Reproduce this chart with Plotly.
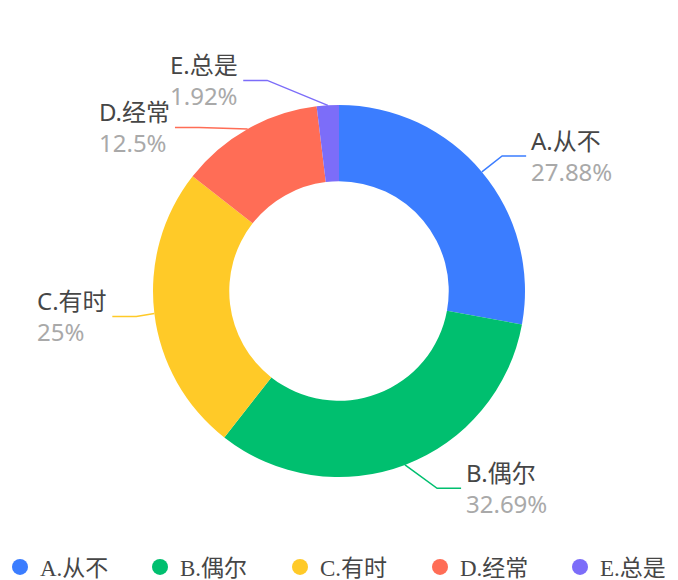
import math
import plotly.graph_objects as go

# ---- data ----
labels = ["A.从不", "B.偶尔", "C.有时", "D.经常", "E.总是"]
percents = [27.88, 32.69, 25, 12.5, 1.92]
colors = ["#3B7DFF", "#00BF6F", "#FFCA28", "#FF6D56", "#7C6DF9"]

# ---- layout constants ----
W, H = 678, 580
CX, CY, R = 339, 291, 186
HOLE = 0.59
L1, L2, GAP = 25, 24, 3          # leader line segment lengths, text gap
RA, RB = R + 18, R + 39          # ellipse on which label knees sit
MIN_DY = 47                      # minimal vertical spacing of labels
LABEL_FONT = "Noto Sans, Noto Sans CJK SC, sans-serif"
LEGEND_FONT = "Liberation Serif, Noto Sans CJK SC, serif"


def fmt_pct(v):
    s = f"{v:.2f}".rstrip("0").rstrip(".")
    return s + "%"


fig = go.Figure()

# donut
fig.add_trace(go.Pie(
    values=percents, labels=labels, sort=False, direction="clockwise", rotation=0,
    hole=HOLE, textinfo="none", showlegend=False,
    marker=dict(colors=colors, line=dict(width=0)),
    domain=dict(x=[(CX - R) / W, (CX + R) / W], y=[(H - CY - R) / H, (H - CY + R) / H]),
    hovertemplate="%{label}: %{value}%<extra></extra>",
))

# label layout computed from the data
total = sum(percents)
items = []
cum = 0.0
for i, v in enumerate(percents):
    f = v / total
    mid = (cum + f / 2) * 2 * math.pi
    cum += f
    ux, uy = math.sin(mid), -math.cos(mid)
    items.append(dict(i=i, ex=CX + R * ux, ey=CY + R * uy,
                      ky=CY + (R + L1) * uy, side=1 if ux >= 0 else -1))
for side in (1, -1):
    grp = sorted([it for it in items if it["side"] == side], key=lambda t: t["ky"])
    for a, b in zip(grp, grp[1:]):
        if b["ky"] - a["ky"] < MIN_DY:
            b["ky"] = a["ky"] + MIN_DY
for it in items:
    dy = it["ky"] - CY
    it["kx"] = CX + it["side"] * RA * math.sqrt(max(0.0, 1 - (dy / RB) ** 2))

for it in items:
    i, s = it["i"], it["side"]
    fig.add_trace(go.Scatter(
        x=[it["ex"], it["kx"], it["kx"] + s * L2], y=[it["ey"], it["ky"], it["ky"]],
        mode="lines", line=dict(color=colors[i], width=1.5),
        hoverinfo="skip", showlegend=False,
    ))
    fig.add_annotation(
        x=it["kx"] + s * (L2 + GAP), y=it["ky"], xref="x", yref="y",
        xanchor="left" if s > 0 else "right", yanchor="middle", align="left",
        showarrow=False,
        text=f"<span style='color:#464646'>{labels[i]}</span><br>"
             f"<span style='color:#A9A9A9'>{fmt_pct(percents[i])}</span>",
        font=dict(size=24, family=LABEL_FONT),
    )

# legend entries (circle symbols)
for i, lab in enumerate(labels):
    fig.add_trace(go.Scatter(
        x=[None], y=[None], mode="markers", name=lab,
        marker=dict(color=colors[i], size=16, symbol="circle"),
        legendwidth=60 if i == len(labels) - 1 else None,
    ))

fig.update_layout(
    width=W, height=H,
    margin=dict(l=0, r=0, t=0, b=0, autoexpand=False),
    paper_bgcolor="white", plot_bgcolor="rgba(0,0,0,0)",
    xaxis=dict(range=[0, W], visible=False, fixedrange=True),
    yaxis=dict(range=[H, 0], visible=False, fixedrange=True),
    showlegend=True,
    legend=dict(orientation="h", x=0, xanchor="left", y=1 - 567 / H, yanchor="middle",
                entrywidth=95, font=dict(size=23, family=LEGEND_FONT, color="#464646"),
                bgcolor="rgba(0,0,0,0)"),
)

fig.write_html("out.html", config={"displayModeBar": False},
               post_script="document.body.style.margin='0';document.body.style.overflow='hidden';")
